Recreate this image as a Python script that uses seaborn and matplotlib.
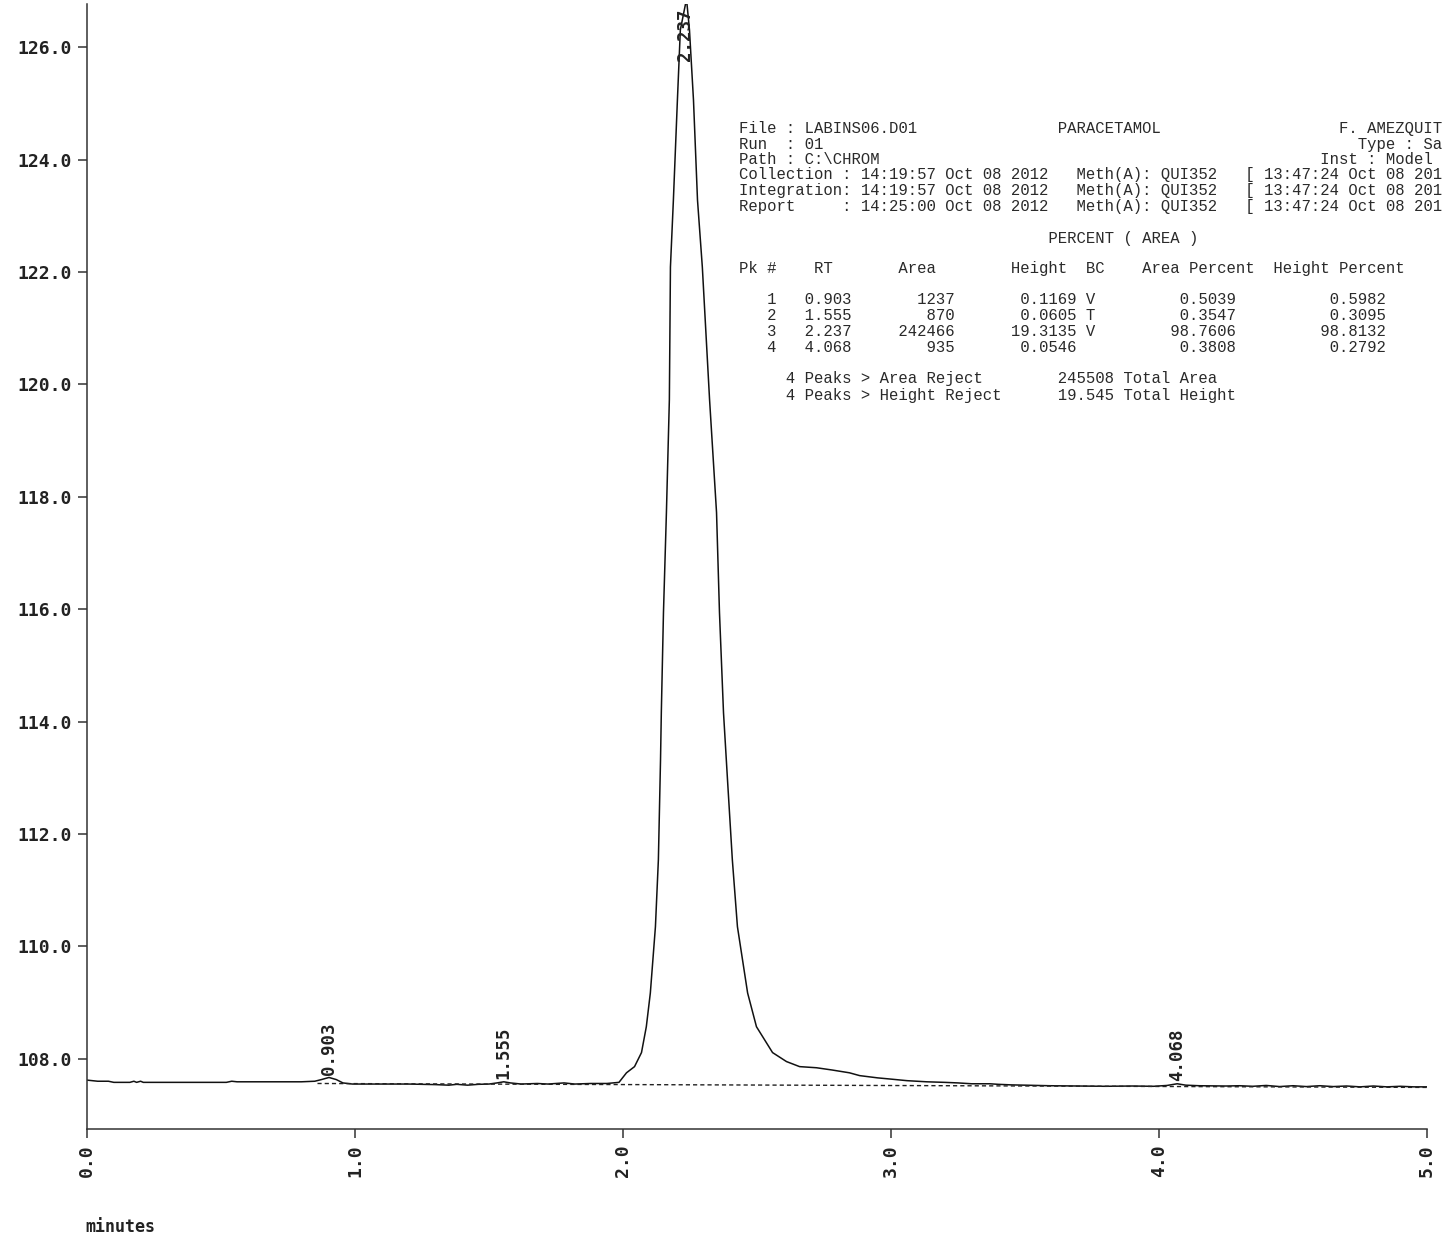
import matplotlib
matplotlib.use("Agg")
import matplotlib.pyplot as plt
import numpy as np
import pandas as pd
import seaborn as sns

# ---- detector trace (minutes, signal) ----
time_min = [
    0.000, 0.020, 0.040, 0.080, 0.100, 0.160, 0.175, 0.185, 0.200, 0.210,
    0.300, 0.400, 0.520, 0.540, 0.560, 0.700, 0.800, 0.850, 0.875, 0.903,
    0.930, 0.955, 0.990, 1.100, 1.200, 1.300, 1.350, 1.380, 1.420, 1.460,
    1.500, 1.530, 1.555, 1.580, 1.620, 1.680, 1.720, 1.780, 1.820, 1.880,
    1.940, 1.985,
    2.013, 2.043, 2.069, 2.087, 2.102, 2.121, 2.132, 2.140, 2.143, 2.151,
    2.162, 2.173, 2.177, 2.188, 2.203, 2.214, 2.237, 2.248, 2.263, 2.278,
    2.296, 2.323, 2.349, 2.360, 2.375, 2.390, 2.408, 2.427, 2.465, 2.498,
    2.558, 2.610, 2.659, 2.722, 2.780, 2.845, 2.883, 2.950, 2.995, 3.060,
    3.133, 3.200, 3.250, 3.300, 3.368, 3.400, 3.450, 3.500, 3.592, 3.700,
    3.800, 3.900, 3.980, 4.030, 4.068, 4.100, 4.150, 4.250, 4.300, 4.350,
    4.400, 4.450, 4.500, 4.550, 4.600, 4.650, 4.700, 4.750, 4.800, 4.850,
    4.900, 4.950, 5.000,
]
signal = [
    107.62, 107.61, 107.60, 107.60, 107.58, 107.58, 107.60, 107.58, 107.60, 107.58,
    107.58, 107.58, 107.58, 107.60, 107.59, 107.59, 107.59, 107.60, 107.63, 107.667,
    107.63, 107.57, 107.55, 107.55, 107.55, 107.54, 107.53, 107.545, 107.53, 107.545,
    107.55, 107.57, 107.59, 107.57, 107.55, 107.56, 107.55, 107.57, 107.55, 107.56,
    107.56, 107.58,
    107.75, 107.86, 108.11, 108.57, 109.17, 110.35, 111.54, 113.32, 114.16, 115.94,
    117.72, 119.73, 122.09, 123.28, 125.06, 126.31, 126.86, 126.31, 125.06, 123.28,
    122.09, 119.73, 117.72, 115.94, 114.16, 112.96, 111.54, 110.35, 109.17, 108.57,
    108.11, 107.95, 107.86, 107.84, 107.80, 107.75, 107.70, 107.66, 107.64, 107.61,
    107.59, 107.58, 107.57, 107.555, 107.555, 107.545, 107.535, 107.53, 107.52, 107.515,
    107.51, 107.515, 107.51, 107.525, 107.555, 107.53, 107.52, 107.515, 107.52, 107.51,
    107.525, 107.505, 107.52, 107.505, 107.52, 107.505, 107.515, 107.50, 107.515, 107.50,
    107.51, 107.50, 107.50,
]

# integration baseline
baseline_t = [0.86, 5.00]
baseline_v = [107.56, 107.49]

# ---- peak table ----
pk_num = [1, 2, 3, 4]
pk_rt = [0.903, 1.555, 2.237, 4.068]
pk_area = [1237, 870, 242466, 935]
pk_height = [0.1169, 0.0605, 19.3135, 0.0546]
pk_bc = ["V", "T", "V", " "]
pk_area_pct = [0.5039, 0.3547, 98.7606, 0.3808]
pk_height_pct = [0.5982, 0.3095, 98.8132, 0.2792]
total_area = 245508
total_height = "19.545"

y_ticks = [108, 110, 112, 114, 116, 118, 120, 122, 124, 126]
x_ticks = [0, 1, 2, 3, 4, 5]

sns.set_theme(style="white")
plt.rcParams["font.family"] = ["DejaVu Sans Mono", "DejaVu Sans"]

W, H = 1448, 1237
fig = plt.figure(figsize=(W / 100, H / 100), dpi=100)
ax = fig.add_axes([87 / W, 1 - 1129 / H, (1427 - 87) / W, (1129 - 4) / H])
ax.set_facecolor("white")

trace = pd.DataFrame({"minutes": time_min, "signal": signal})
sns.lineplot(data=trace, x="minutes", y="signal", estimator=None, sort=False,
             color="#111111", linewidth=1.1, ax=ax)
base = pd.DataFrame({"minutes": baseline_t, "signal": baseline_v})
sns.lineplot(data=base, x="minutes", y="signal", estimator=None,
             color="#222222", linewidth=1.0, linestyle=(0, (3, 2.2)), ax=ax)

ax.set_xlim(0, 5)
ax.set_ylim(106.75, 126.77)
ax.set_xlabel("")
ax.set_ylabel("")

tick_font = dict(family="DejaVu Sans Mono", weight="bold", size=13)
ax.set_yticks(y_ticks)
ax.set_yticklabels([f"{v:.1f}" for v in y_ticks], fontdict=tick_font, color="#222222")
ax.set_xticks(x_ticks)
ax.set_xticklabels([f"{v:.1f}" for v in x_ticks], fontdict=tick_font,
                   color="#222222", rotation=90)
ax.tick_params(axis="both", direction="out", length=6.5, width=1.1,
               color="#333333", pad=4.3, left=True, bottom=True)

sns.despine(ax=ax, top=True, right=True)
for side in ("left", "bottom"):
    ax.spines[side].set_color("#333333")
    ax.spines[side].set_linewidth(1.1)

# retention time labels over each peak
ytop = ax.get_ylim()[1]
for rt, h in zip(pk_rt, pk_height):
    i = time_min.index(rt)
    apex = signal[i]
    if apex > ytop:
        ax.annotate(f"{rt:.3f}", xy=(rt, ytop), xytext=(-1, -3),
                    textcoords="offset points", rotation=90, ha="center",
                    va="top", fontsize=12.5, fontweight="bold",
                    family="DejaVu Sans Mono", color="#222222")
    else:
        ax.annotate(f"{rt:.3f}", xy=(rt, apex), xytext=(0, 2),
                    textcoords="offset points", rotation=90, ha="center",
                    va="bottom", fontsize=12.5, fontweight="bold",
                    family="DejaVu Sans Mono", color="#222222")

fig.text(85 / W, 1 - 1227 / H, "minutes", ha="left", va="center",
         fontsize=12, fontweight="bold", family="DejaVu Sans Mono",
         color="#222222")

# ---- report header and percent table ----
rep_font = dict(family="Liberation Mono", fontsize=11.25, color="#2a2a2a",
                ha="left", va="center")
x0 = 739 / W


def put(line, ypix):
    fig.text(x0, 1 - ypix / H, line, **rep_font)


header = [
    ("File : LABINS06.D01".ljust(34) + "PARACETAMOL".ljust(30) + "F. AMEZQUIT", 128),
    ("Run  : 01".ljust(66) + "Type : Sa", 144),
    ("Path : C:\\CHROM".ljust(62) + "Inst : Model", 159),
    ("Collection : 14:19:57 Oct 08 2012   Meth(A): QUI352   [ 13:47:24 Oct 08 201", 175),
    ("Integration: 14:19:57 Oct 08 2012   Meth(A): QUI352   [ 13:47:24 Oct 08 201", 191),
    ("Report     : 14:25:00 Oct 08 2012   Meth(A): QUI352   [ 13:47:24 Oct 08 201", 207),
]
for line, yp in header:
    put(line, yp)

put(" " * 33 + "PERCENT ( AREA )", 238)
put("Pk #    RT       Area        Height  BC    Area Percent  Height Percent", 269)

row_y = [300, 316, 332, 348]
for n, rt, ar, ht, bc, ap, hp, yp in zip(pk_num, pk_rt, pk_area, pk_height,
                                          pk_bc, pk_area_pct, pk_height_pct, row_y):
    row = f"{n:>4}   {rt:.3f}{ar:>11d}{ht:>13.4f} {bc}{ap:>15.4f}{hp:>16.4f}"
    put(row, yp)

n_pk = len(pk_num)
put(f"     {n_pk} Peaks > Area Reject".ljust(34) + f"{total_area} Total Area", 379)
put(f"     {n_pk} Peaks > Height Reject".ljust(34) + f"{total_height} Total Height", 395)

fig.savefig("out.png", dpi=100, facecolor="white")
